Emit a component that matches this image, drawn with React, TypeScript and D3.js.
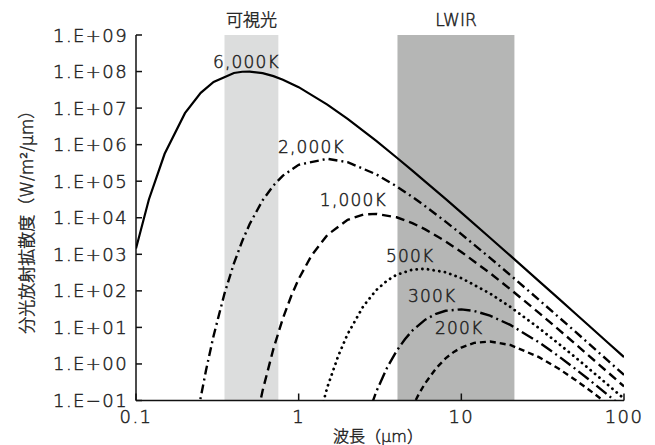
import React from "react";
import * as d3 from "d3";

// wavelength samples (um) and spectral exitance (W/m2/um)
const wl6000 = [0.1, 0.12, 0.15, 0.2, 0.25, 0.3, 0.4, 0.45, 0.5, 0.6, 0.7, 0.8, 1, 1.5, 2, 3, 4, 5, 6, 8, 10, 15, 20, 30, 40, 50, 60, 80, 100];
const val6000 = [1.44e3, 3.16e4, 5.62e5, 7.26e6, 2.62e7, 5.2e7, 9.12e7, 9.89e7, 9.98e7, 9.02e7, 7.48e7, 6.0e7, 3.74e7, 1.25e7, 5.05e6, 1.26e6, 4.45e5, 1.95e5, 9.79e4, 3.27e4, 1.38e4, 2.84e3, 9.18e2, 1.85e2, 5.92e1, 2.44e1, 1.18e1, 3.75, 1.54];

const wl2000 = [0.22, 0.25, 0.27, 0.3, 0.35, 0.4, 0.45, 0.5, 0.6, 0.7, 0.8, 1, 1.5, 2, 3, 4, 5, 6, 8, 10, 15, 20, 30, 40, 50, 60, 80, 100];
const val2000 = [4.6e-3, 1.22e-1, 7.0e-1, 5.94, 8.43e1, 5.65e2, 2.31e3, 6.75e3, 2.99e4, 7.65e4, 1.42e5, 2.81e5, 4.1e5, 3.3e5, 1.54e5, 7.24e4, 3.72e4, 2.07e4, 7.83e3, 3.56e3, 8.0e2, 2.7e2, 5.68e1, 1.85e1, 7.74, 3.78, 1.21, 5.01e-1];

const wl1000 = [0.5, 0.6, 0.7, 0.8, 0.9, 1, 1.2, 1.5, 2, 2.5, 3, 4, 5, 6, 8, 10, 15, 20, 30, 40, 50, 60, 80, 100];
const val1000 = [3.81e-3, 1.85e-1, 2.63, 1.77e1, 7.23e1, 2.11e2, 9.33e2, 3.37e3, 8.79e3, 1.22e4, 1.28e4, 1.03e4, 7.14e3, 4.81e3, 2.26e3, 1.16e3, 3.06e2, 1.11e2, 2.5e1, 8.43, 3.59, 1.77, 5.79e-1, 2.42e-1];

const wl500 = [1.2, 1.5, 1.75, 2, 2.5, 3, 3.5, 4, 5, 6, 8, 10, 15, 20, 30, 40, 50, 60, 80, 100];
const val500 = [5.79e-3, 2.3e-1, 1.65, 6.59, 3.84e1, 1.05e2, 1.91e2, 2.75e2, 3.8e2, 4.01e2, 3.22e2, 2.23e2, 8.47e1, 3.64e1, 9.57, 3.47, 1.54, 7.82e-1, 2.64e-1, 1.12e-1];

const wl300 = [2.5, 3, 3.5, 4, 4.5, 5, 6, 7, 8, 10, 12, 15, 20, 30, 40, 50, 60, 80, 100];
const val300 = [1.79e-2, 1.75e-1, 7.98e-1, 2.27, 4.76, 8.18, 1.63e1, 2.36e1, 2.85e1, 3.12e1, 2.82e1, 2.1e1, 1.17e1, 3.9, 1.58, 7.43e-1, 3.93e-1, 1.39e-1, 6.08e-2];

const wl200 = [4, 4.5, 5, 5.5, 6, 7, 8, 9, 10, 12, 15, 20, 30, 40, 50, 60, 80, 100];
const val200 = [5.65e-3, 2.31e-2, 6.76e-2, 1.55e-1, 2.99e-1, 7.65e-1, 1.42, 2.14, 2.81, 3.76, 4.11, 3.3, 1.54, 7.24e-1, 3.72e-1, 2.07e-1, 7.83e-2, 3.55e-2];

const seriesNames = ["6,000K", "2,000K", "1,000K", "500K", "300K", "200K"];
const seriesWl = [wl6000, wl2000, wl1000, wl500, wl300, wl200];
const seriesVal = [val6000, val2000, val1000, val500, val300, val200];
// where each curve's label starts (wavelength, value)
const labelWl = [0.297, 0.746, 1.35, 3.44, 4.7, 6.88];
const labelVal = [1.8e8, 8.6e5, 3.06e4, 8.98e2, 72, 9.6];

const bandNames = ["可視光", "LWIR"];
const bandFrom = [0.35, 4.05];
const bandTo = [0.75, 21.2];

const xTicks = [0.1, 1, 10, 100];
const xTickLabels = ["0.1", "1", "10", "100"];
const yTicks = [1e-1, 1e0, 1e1, 1e2, 1e3, 1e4, 1e5, 1e6, 1e7, 1e8, 1e9];
const yTickLabels = ["1.E−01", "1.E+00", "1.E+01", "1.E+02", "1.E+03", "1.E+04", "1.E+05", "1.E+06", "1.E+07", "1.E+08", "1.E+09"];

const width = 655;
const height = 445;
const margin = { top: 35, right: 31, bottom: 44.5, left: 136 };

const lineStyles = [
  { dash: "none", w: 2.2, cap: "butt" },
  { dash: "9,4,2,4", w: 2.4, cap: "butt" },
  { dash: "9,5", w: 2.4, cap: "butt" },
  { dash: "0.1,5.6", w: 2.8, cap: "round" },
  { dash: "13,4,2,4", w: 2.4, cap: "butt" },
  { dash: "6,4", w: 2.4, cap: "butt" },
];

const numFont = "'DejaVu Sans', 'Noto Sans CJK JP', sans-serif";
const textColor = "#222";
const textWeight = 200;
// thin outline to bring the extra-light face up to the reference weight
const textStroke = { stroke: textColor, strokeWidth: 0.45 };

export default function App() {
  const x = d3.scaleLog().domain([0.1, 100]).range([margin.left, width - margin.right]);
  const y = d3.scaleLog().domain([0.1, 1e9]).range([height - margin.bottom, margin.top]);
  const line = d3
    .line<[number, number]>()
    .x((d) => x(d[0]))
    .y((d) => y(d[1]))
    .curve(d3.curveLinear);

  const x0 = x(0.1);
  const x1 = x(100);
  const yb = y(0.1);
  const yt = y(1e9);

  return (
    <svg
      width={width}
      height={height}
      style={{ position: "absolute", left: 0, top: 0, background: "#fff" }}
    >
      <defs>
        <clipPath id="plot">
          <rect x={x0} y={yt} width={x1 - x0} height={yb - yt} />
        </clipPath>
      </defs>

      {/* bands */}
      {bandNames.map((n, i) => (
        <g key={n}>
          <rect
            x={x(bandFrom[i])}
            y={yt}
            width={x(bandTo[i]) - x(bandFrom[i])}
            height={yb - yt}
            fill={i === 0 ? "#dcdddd" : "#b5b6b5"}
          />
          <text
            x={x(Math.sqrt(bandFrom[i] * bandTo[i]))}
            y={yt - 15}
            textAnchor="middle"
            dominantBaseline="central"
            fontFamily={numFont}
            fontWeight={textWeight}
            fontSize={17}
            fill={textColor}
            {...textStroke}
          >
            {n}
          </text>
        </g>
      ))}

      {/* axes */}
      <g stroke="#111" strokeWidth={1.5} fill="none">
        <line x1={x0} x2={x0} y1={yt} y2={yb} />
        <line x1={x0} x2={x1} y1={yb} y2={yb} />
        {yTicks.map((t) => (
          <line key={t} x1={x0} x2={x0 + 6} y1={y(t)} y2={y(t)} />
        ))}
        {xTicks.map((t) => (
          <line key={t} x1={x(t)} x2={x(t)} y1={yb} y2={yb - 7} />
        ))}
      </g>
      {yTicks.map((t, i) => (
        <text
          key={t}
          x={x0 - 8}
          y={y(t)}
          textAnchor="end"
          dominantBaseline="central"
          fontFamily={numFont}
          fontWeight={textWeight}
          fontSize={18}
          letterSpacing={1.4}
          fill={textColor}
          {...textStroke}
        >
          {yTickLabels[i]}
        </text>
      ))}
      {xTicks.map((t, i) => (
        <text
          key={t}
          x={x(t)}
          y={yb + 16}
          textAnchor="middle"
          dominantBaseline="central"
          fontFamily={numFont}
          fontWeight={textWeight}
          fontSize={18}
          letterSpacing={1.4}
          fill={textColor}
          {...textStroke}
        >
          {xTickLabels[i]}
        </text>
      ))}
      <text
        x={378}
        y={height - 9}
        textAnchor="middle"
        dominantBaseline="central"
        fontFamily={numFont}
        fontWeight={textWeight}
        fontSize={16}
        fill={textColor}
        {...textStroke}
      >
        波長（μm）
      </text>
      <text
        transform={`translate(27,${(yt + yb) / 2}) rotate(-90)`}
        textAnchor="middle"
        dominantBaseline="central"
        fontFamily={numFont}
        fontWeight={textWeight}
        fontSize={17}
        fill={textColor}
        {...textStroke}
      >
        分光放射拡散度（W/m²/μm）
      </text>

      {/* curves */}
      <g clipPath="url(#plot)" fill="none" stroke="#000">
        {seriesNames.map((n, i) => (
          <path
            key={n}
            d={line(seriesWl[i].map((w, j) => [w, seriesVal[i][j]] as [number, number])) || ""}
            strokeWidth={lineStyles[i].w}
            strokeDasharray={lineStyles[i].dash}
            strokeLinecap={lineStyles[i].cap as any}
          />
        ))}
      </g>

      {seriesNames.map((n, i) => (
        <text
          key={n}
          x={x(labelWl[i])}
          y={y(labelVal[i])}
          dominantBaseline="central"
          fontFamily={numFont}
          fontWeight={textWeight}
          fontSize={17}
          letterSpacing={1.2}
          fill={textColor}
          {...textStroke}
        >
          {n}
        </text>
      ))}
    </svg>
  );
}
